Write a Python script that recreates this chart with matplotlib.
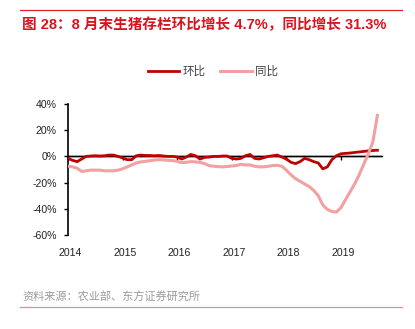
import numpy as np
import matplotlib.pyplot as plt
from matplotlib.lines import Line2D

plt.rcParams['font.family'] = ['Liberation Sans', 'Noto Sans CJK SC']
plt.rcParams['axes.unicode_minus'] = False

# 月度数据：2013年12月末 ~ 2019年8月末（%）
start_year = 2014
huanbi = [-1.5, -3.0, -4.0, -2.0, 0.0, 0.3, 0.5, 0.3, 0.5, 1.0, 1.0, 0.0,
          -1.2, -2.5, -2.5, 0.5, 1.0, 0.7, 0.7, 0.5, 0.7, 0.3, 0.0, 0.0,
          -0.5, -2.0, -0.5, 1.5, 0.5, -2.0, -0.8, -0.5, 0.0, 0.0, 0.3, 0.3,
          -1.5, -2.0, -1.5, 0.5, 1.5, -1.5, -2.0, -1.0, 0.0, 0.5, 1.0, -0.5,
          -2.0, -4.5, -5.5, -4.0, -1.5, -2.5, -4.0, -5.0, -9.5, -8.0, -2.5, 0.5,
          2.0, 2.3, 2.6, 3.0, 3.4, 3.8, 4.2, 4.5, 4.7]
tongbi = [-7.5, -8.0, -9.0, -11.5, -11.0, -10.5, -10.5, -10.5, -11.0, -11.0, -11.0, -10.5,
          -9.5, -8.0, -6.5, -5.0, -4.2, -3.8, -3.3, -2.8, -2.5, -2.7, -3.0, -3.2,
          -3.8, -4.8, -4.5, -4.0, -4.2, -4.5, -5.5, -7.0, -7.5, -7.8, -8.0, -7.7,
          -7.3, -7.0, -6.0, -6.5, -6.5, -7.5, -8.0, -8.0, -7.5, -7.0, -6.8, -7.5,
          -10.5, -14.0, -17.0, -19.0, -21.0, -23.0, -26.0, -30.0, -37.0, -40.5, -42.0, -42.5,
          -39.0, -33.0, -27.0, -21.0, -14.0, -6.0, 2.0, 11.0, 31.3]
years = [2014, 2015, 2016, 2017, 2018, 2019]
yticks = [40, 20, 0, -20, -40, -60]

x = start_year + np.arange(len(huanbi)) / 12.0

red = '#C00000'
pink = '#F2A0A0'

fig = plt.figure(figsize=(4.15, 3.29), dpi=100)
ax = fig.add_axes([68 / 415, 1 - 235 / 329, 314 / 415, 131 / 329])

ax.axhline(0, color='black', lw=1.0, zorder=1)
ax.plot(x, huanbi, color=red, lw=2.0, label='环比', zorder=3)
ax.plot(x, tongbi, color=pink, lw=2.2, label='同比', zorder=3)

ax.set_ylim(-60, 40)
ax.set_xlim(2014, 2014 + 314 / 54.6)
ax.set_yticks(yticks)
ax.set_yticklabels([f'{v}%' for v in yticks], fontsize=7.6, color='#222222')
ax.tick_params(axis='y', direction='out', length=3, width=1, pad=5)

# x轴线在0处，刻度向下
ax.spines['bottom'].set_position(('data', 0))
ax.spines['bottom'].set_linewidth(1.0)
ax.spines['top'].set_visible(False)
ax.spines['right'].set_visible(False)
ax.spines['left'].set_linewidth(1.2)
ax.set_xticks(years)
ax.tick_params(axis='x', direction='out', length=3, width=1, labelbottom=False)

sec = ax.secondary_xaxis('bottom')
sec.set_xticks([y + 0.04 for y in years])
sec.set_xticklabels([str(y) for y in years], fontsize=7.6, color='#222222')
sec.tick_params(length=0, pad=9)
sec.spines['bottom'].set_visible(False)

fig.legend(loc='center', bbox_to_anchor=(213 / 415, 1 - 72 / 329), ncol=2,
           frameon=False, fontsize=8.3, handlelength=2.7, columnspacing=1.3,
           handletextpad=0.3, labelcolor='#404040')

# 标题与来源
fig.add_artist(Line2D([20 / 415, 402 / 415], [1 - 10 / 329, 1 - 10 / 329],
                      color='#E0202A', lw=0.9))
fig.text(22 / 415, 1 - 25 / 329, '图 28：8 月末生猪存栏环比增长 4.7%，同比增长 31.3%',
         color='#D7141E', fontsize=10.5, fontweight='bold', va='center', ha='left')
fig.text(22 / 415, 1 - 297 / 329, '资料来源：农业部、东方证券研究所',
         color='#9A9A9A', fontsize=8, va='center', ha='left')
fig.add_artist(Line2D([20 / 415, 402 / 415], [1 - 307 / 329, 1 - 307 / 329],
                      color='#EE8C7C', lw=0.9))

fig.savefig('out.png', dpi=100)
